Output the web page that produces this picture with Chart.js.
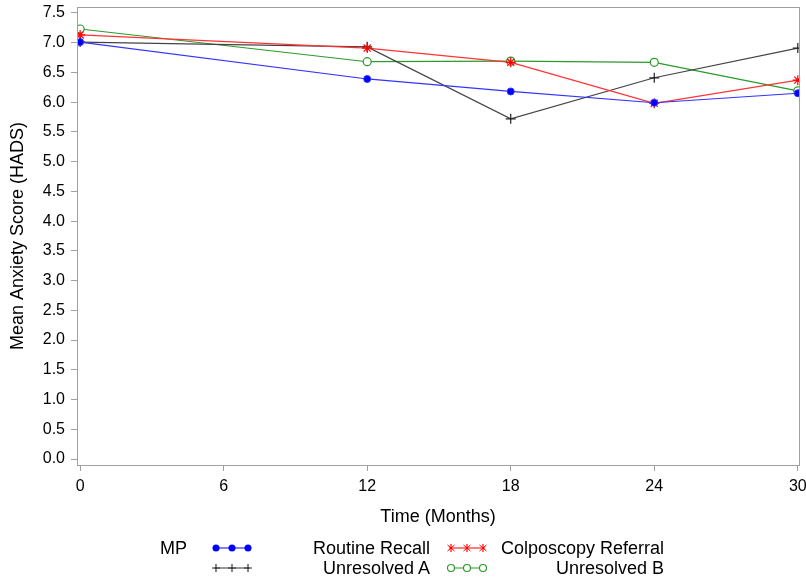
<!DOCTYPE html>
<html>
<head>
<meta charset="utf-8">
<script src="https://cdn.jsdelivr.net/npm/chart.js@4/dist/chart.umd.min.js"></script>
<style>
  html, body { margin: 0; padding: 0; background: #fff; }
  #wrap { position: relative; width: 806px; height: 578px; font-family: "Liberation Sans", Arial, sans-serif; }
  canvas { position: absolute; left: 0; top: 0; }
  .lg { position: absolute; font-size: 18px; color: #000; white-space: nowrap; line-height: 20px; }
  .lg.r { text-align: right; }
  .sym { position: absolute; }
</style>
</head>
<body>
<div id="wrap">
  <canvas id="chart" width="806" height="578"></canvas>
  <div class="lg" style="left:160px; top:538px;">MP</div>
  <svg class="sym" style="left:212px; top:539px;" width="42" height="18" id="s0"></svg>
  <div class="lg r" style="left:250px; width:180px; top:538px;">Routine Recall</div>
  <svg class="sym" style="left:447px; top:539px;" width="42" height="18" id="s1"></svg>
  <div class="lg r" style="left:480px; width:184px; top:538px;">Colposcopy Referral</div>
  <svg class="sym" style="left:212px; top:559px;" width="42" height="18" id="s2"></svg>
  <div class="lg r" style="left:250px; width:180px; top:558px;">Unresolved A</div>
  <svg class="sym" style="left:447px; top:559px;" width="42" height="18" id="s3"></svg>
  <div class="lg r" style="left:480px; width:184px; top:558px;">Unresolved B</div>
</div>
<script>
// ---- data ----
const months = [0, 12, 18, 24, 30];
const routineRecall = [7.01, 6.39, 6.18, 5.99, 6.15];
const colposcopyReferral = [7.13, 6.91, 6.67, 5.98, 6.37];
const unresolvedA = [7.01, 6.93, 5.72, 6.41, 6.91];
const unresolvedB = [7.23, 6.68, 6.69, 6.67, 6.19];
const xTicks = [0, 6, 12, 18, 24, 30];
const yTicks = [0, 0.5, 1, 1.5, 2, 2.5, 3, 3.5, 4, 4.5, 5, 5.5, 6, 6.5, 7, 7.5];

const toPts = vals => months.map((m, i) => ({ x: m, y: vals[i] }));

// legend symbols
function drawSym(id, color, kind) {
  const s = document.getElementById(id);
  let h = `<line x1="2" y1="9" x2="38" y2="9" stroke="${color}" stroke-width="1.2"/>`;
  [4, 20, 36].forEach(cx => {
    if (kind === 'dot') h += `<circle cx="${cx}" cy="9" r="3.5" fill="${color}"/>`;
    if (kind === 'ring') h += `<circle cx="${cx}" cy="9" r="3.5" fill="#fff" stroke="${color}" stroke-width="1.2"/>`;
    if (kind === 'plus' || kind === 'star') h += `<line x1="${cx}" y1="5" x2="${cx}" y2="13" stroke="${color}" stroke-width="1.2"/>`;
    if (kind === 'star') h += `<line x1="${cx-3.5}" y1="6" x2="${cx+3.5}" y2="12" stroke="${color}"/><line x1="${cx-3.5}" y1="12" x2="${cx+3.5}" y2="6" stroke="${color}"/>`;
    if (kind === 'plus') h += `<line x1="${cx-4}" y1="9" x2="${cx+4}" y2="9" stroke="${color}"/>`;
  });
  s.innerHTML = h;
}
drawSym('s0', '#0000ff', 'dot');
drawSym('s1', '#ff0000', 'star');
drawSym('s2', '#333333', 'plus');
drawSym('s3', '#2a9a2a', 'ring');

const frame = {
  id: 'frame',
  afterDraw(chart) {
    const { ctx, chartArea: a } = chart;
    ctx.save();
    ctx.strokeStyle = '#a0a0a0';
    ctx.lineWidth = 1;
    ctx.strokeRect(Math.round(a.left) + 0.5, Math.round(a.top) + 0.5, Math.round(a.right - a.left), Math.round(a.bottom - a.top));
    ctx.restore();
  }
};

const tickFont = { family: '"Liberation Sans", Arial, sans-serif', size: 16 };
const titleFont = { family: '"Liberation Sans", Arial, sans-serif', size: 18 };

new Chart(document.getElementById('chart'), {
  type: 'line',
  data: {
    datasets: [
      { label: 'Routine Recall', data: toPts(routineRecall), borderColor: '#3333ff', backgroundColor: '#0000ff',
        pointStyle: 'circle', pointRadius: 3.5, borderWidth: 1.2, pointBorderWidth: 1 },
      { label: 'Colposcopy Referral', data: toPts(colposcopyReferral), borderColor: '#ff3333', backgroundColor: '#ff0000',
        pointStyle: 'star', pointRadius: 5, borderWidth: 1.2, pointBorderWidth: 1.2, pointBorderColor: '#ff0000' },
      { label: 'Unresolved A', data: toPts(unresolvedA), borderColor: '#444444', backgroundColor: '#222222',
        pointStyle: 'cross', pointRadius: 5, borderWidth: 1.2, pointBorderWidth: 1.2, pointBorderColor: '#222222' },
      { label: 'Unresolved B', data: toPts(unresolvedB), borderColor: '#2a9a2a', backgroundColor: '#ffffff',
        pointStyle: 'circle', pointRadius: 4, borderWidth: 1.2, pointBorderWidth: 1.2, pointBorderColor: '#2a9a2a' }
    ]
  },
  options: {
    responsive: false,
    animation: false,
    layout: { padding: { left: 0, right: 7, top: 7, bottom: 40 } },
    plugins: { legend: { display: false }, tooltip: { enabled: false } },
    elements: { line: { tension: 0 } },
    scales: {
      x: {
        type: 'linear', min: -0.13, max: 30.05,
        afterBuildTicks: s => { s.ticks = xTicks.map(v => ({ value: v })); },
        afterFit: s => { s.height = 73; s.paddingLeft = 0; s.paddingRight = 0; },
        ticks: { color: '#000', font: tickFont, padding: 6, maxRotation: 0 },
        grid: { drawOnChartArea: false, drawTicks: true, tickLength: 6, color: '#a0a0a0' },
        border: { display: false },
        title: { display: true, text: 'Time (Months)', color: '#000', font: titleFont, padding: { top: 4, bottom: 10 } }
      },
      y: {
        min: -0.1, max: 7.6,
        afterBuildTicks: s => { s.ticks = yTicks.map(v => ({ value: v })); },
        afterFit: s => { s.width = 77; s.paddingTop = 0; s.paddingBottom = 0; },
        ticks: { color: '#000', font: tickFont, padding: 6, callback: v => v.toFixed(1) },
        grid: { drawOnChartArea: false, drawTicks: true, tickLength: 6, color: '#a0a0a0' },
        border: { display: false },
        title: { display: true, text: 'Mean Anxiety Score (HADS)', color: '#000', font: titleFont, padding: { top: 7, bottom: 0 } }
      }
    }
  },
  plugins: [frame]
});
</script>
</body>
</html>
